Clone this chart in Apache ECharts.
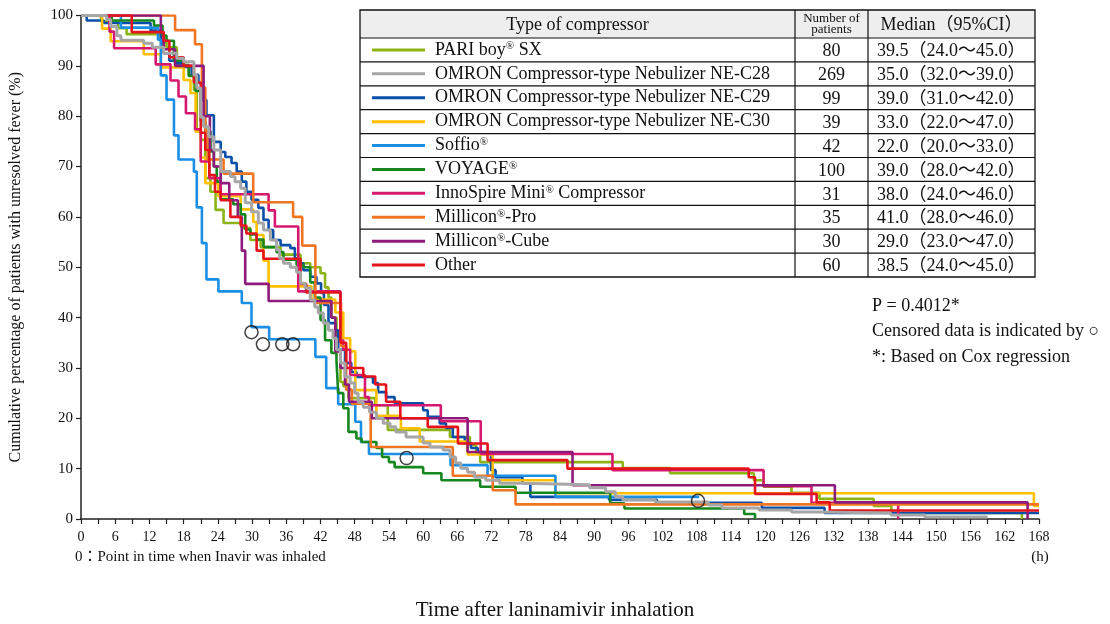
<!DOCTYPE html>
<html><head><meta charset="utf-8">
<script src="https://cdn.jsdelivr.net/npm/echarts/dist/echarts.min.js"></script>
<style>html,body{margin:0;padding:0;background:#fff}#c{width:1110px;height:624px}</style>
</head><body><div id="c"></div><script>
// ---- Data (time h, cumulative % with unresolved fever) ----
const pariBoy = [[0,100],[3.5,98.8],[6.5,97.5],[8,96.3],[14,94.7],[15,93.7],[16.8,90.2],[18.9,88.2],[19.8,85.2],[20.3,77.3],[21,75.3],[21.8,67.7],[22.7,65],[23.6,61.4],[25,58.8],[28.2,57.8],[29.7,55.4],[31.5,54],[35,52.5],[38.5,50.8],[40.2,50],[42,48.8],[42.8,46],[43.4,44],[43.9,40],[44.8,33.6],[45.5,27.2],[46,26.4],[46.9,24],[51.6,22.6],[53.8,17.7],[64.7,16.3],[68.2,14.7],[69.3,13.1],[70,11.3],[95,10.1],[103.3,9.1],[118,7.7],[119.7,6.4],[124.6,5.2],[129.5,4],[139,2.6],[142.1,1.2],[165,0]];
const omronC28 = [[0,100],[4.5,99.2],[5.2,97.8],[6.3,96],[7,95.1],[11,94.5],[12.5,93.7],[14.5,92.5],[16.8,91.5],[18,90.8],[19.8,88.2],[20.3,85.6],[21,79.8],[21.5,77.9],[22.4,75.9],[23.3,73.3],[24.5,69],[26.2,68],[27,67],[28,65.7],[28.8,62.8],[29.9,61],[31.1,58.8],[32,57.4],[33.2,55.4],[34.3,53.5],[34.8,51.8],[35.5,50.8],[36.7,50],[37.8,49],[38.5,46.8],[39.3,45.9],[40.2,43.5],[41,42.1],[41.6,40.9],[42.5,38.9],[43.4,37.5],[44.2,35.9],[44.8,33.6],[45.5,31],[46.3,28.2],[47.2,27],[48,25],[48.6,23.2],[49.5,22.2],[50.6,21.2],[51.8,20],[53,19],[54.2,18.3],[55.2,17.3],[57,16.3],[60,15.1],[61.2,14.3],[63.5,13.7],[64.7,12.3],[65.7,11.1],[66.6,10.1],[67.8,9.3],[69,8.3],[71,7.7],[73.4,7.1],[77.4,6.8],[89.2,6.2],[92,5.4],[93.7,4.4],[95,3.8],[100.7,3.4],[110,2.8],[112.4,2.2],[118.9,1.8],[124.6,1.4],[129.5,1.2],[142,0.8],[148,0.4],[159,0.4]];
const omronC29 = [[0,100],[1,99],[4,98.5],[12.2,97],[14,95],[14.5,92.5],[15.5,91],[16.5,90.5],[18,89.8],[19.4,88.2],[20.6,86.6],[21.2,83.2],[22,80.2],[23.3,74.9],[24.5,72.9],[25.3,71.9],[26.4,70.7],[27.3,69],[28.2,67],[29,65],[29.9,63.4],[31.1,61.8],[32,59.4],[32.9,57.4],[33.7,55.4],[35,54.4],[36.7,53.8],[37.5,51.8],[38.2,50.8],[39,49.4],[40.2,48.1],[41.3,46.8],[42.1,44.9],[42.6,42.5],[43.4,38.9],[44.6,37.5],[45.1,33.6],[46.3,31],[47.4,29.2],[48.3,28.2],[51.2,27],[52.1,25.2],[53.5,24.2],[55,23],[60,21.6],[60.8,20.3],[62.9,19],[64,18.1],[65.2,16.3],[67.3,15.1],[68.4,14.1],[69.6,13.3],[71.9,9.7],[72.7,8.3],[77.4,7.1],[78.8,4.4],[92.6,3.8],[101,3.2],[119.4,2.2],[130.4,1.2],[168,1.2]];
const omronC30 = [[0,100],[3.7,97.4],[5.2,94.9],[11,92.3],[14,89.7],[18,87.2],[19.2,84.6],[20.1,76.9],[21,71.8],[21.8,66.7],[24.1,64.1],[28,61.5],[30.2,59],[30.8,56.4],[32,51.3],[32.9,46.2],[40.4,43.6],[44.6,41],[46,35.9],[47.2,33.3],[48.1,25.6],[51.8,20.5],[56.1,18],[59.4,15.4],[67.8,12.8],[72.2,7.7],[83.2,5.1],[167.1,2.6],[168,2.6]];
const soffio = [[0,100],[7,97.6],[13.5,95.2],[14,88.1],[15,83.3],[16.3,76.2],[17.1,71.4],[19.8,69],[20.3,61.9],[21.2,54.8],[22,47.6],[24.1,45.2],[28.2,42.9],[29.9,38.1],[33,35.7],[41.1,32.2],[43,26],[45.1,22.8],[48.1,19.3],[49.1,15.3],[50.5,12.9],[64.8,10.7],[71.3,8.6],[83.2,4.4],[108.4,4.4]];
const voyage = [[0,100],[5.4,99],[12.8,98],[14.3,96],[15,95],[16.3,91],[18,90],[18.9,88],[20.1,85],[21,79],[21.8,77],[22.7,73],[23.3,70],[23.8,67],[24.5,63.5],[26.7,62.5],[28,60.5],[28.8,57.5],[29.7,56.5],[30.8,55.5],[32,54],[34.3,53],[35.5,51.5],[37.8,50.5],[39,50],[40.2,47],[41,44],[42,39.5],[42.8,35.5],[43.9,33],[44.8,31.5],[45.1,25],[46,22],[46.9,17.3],[48.3,16],[49.2,15.3],[51.8,14.1],[52.8,12.3],[54,11.3],[55,10.3],[60,9.1],[63.2,7.7],[70,6.4],[76.2,5.2],[92.8,3.1],[95.3,2.1],[116.3,1],[118.2,0]];
const innoSpire = [[0,100],[5,96.8],[5.8,93.5],[13.1,90.3],[15.7,87.1],[17.1,83.9],[18.4,80.6],[20,77.4],[21,71],[22.5,67.7],[24.5,64.5],[32.9,61.3],[34,58.1],[38.1,45.2],[45.5,35.5],[46,33.6],[47.2,28.6],[49.8,24.2],[50.5,22.6],[63.1,19.4],[70.1,12.9],[93.2,9.7],[119.7,6.5],[128.1,3.2],[143.3,0]];
const millPro = [[0,100],[16.5,97.1],[20,94.3],[21.2,85.7],[21.8,77.1],[22.2,71.4],[25,68.6],[30.2,62.9],[37.2,60],[38.8,54.3],[41.1,42.9],[45.6,34.3],[46.5,25.7],[47.5,22.9],[50.8,14.3],[65.2,8.6],[72.2,5.7],[76.2,2.9],[168,2.9]];
const millCube = [[0,100],[14,96.7],[14.5,93.3],[16.5,90],[21.5,80],[22.6,73.3],[23.3,70],[24.5,66.7],[26,63.3],[27.5,60],[28.2,53.3],[28.8,46.7],[32.9,43.3],[43.9,40],[44.6,33.3],[45.5,30],[46.3,26.7],[47,23.3],[51,20],[67.8,13.3],[86.2,6.7],[132.2,3.3],[166,0]];
const other = [[0,100],[8.9,96.7],[14.5,95],[15.5,91.7],[18,90],[19.8,86.7],[21,76.7],[21.8,73.3],[22.5,68.3],[23.5,65],[24.5,63.3],[26.2,60],[28,58.3],[29,56.7],[30.8,53.3],[32,51.7],[38.5,46.7],[39.5,45],[45.5,35],[46.5,30],[49.5,28.3],[51.6,26.7],[53.5,23.3],[56,20],[60.8,18.3],[66.1,15],[71.3,11.7],[85.3,10],[117.1,8.3],[118.2,5],[129,3.3],[131.3,1.7],[168,1.7]];
const censored = [[29.9,37.1],[31.9,34.7],[35.3,34.7],[37.2,34.7],[57.1,12.1],[108.2,3.6]];

const seriesNames = ['PARI boy® SX','OMRON Compressor-type Nebulizer NE-C28','OMRON Compressor-type Nebulizer NE-C29','OMRON Compressor-type Nebulizer NE-C30','Soffio®','VOYAGE®','InnoSpire Mini® Compressor','Millicon®-Pro','Millicon®-Cube','Other'];
const seriesData = [pariBoy, omronC28, omronC29, omronC30, soffio, voyage, innoSpire, millPro, millCube, other];
const patientCounts = ['80','269','99','39','42','100','31','35','30','60'];
const medianCI = ['39.5（24.0～45.0）','35.0（32.0～39.0）','39.0（31.0～42.0）','33.0（22.0～47.0）','22.0（20.0～33.0）','39.0（28.0～42.0）','38.0（24.0～46.0）','41.0（28.0～46.0）','29.0（23.0～47.0）','38.5（24.0～45.0）'];
const seriesColors = ['#8cb414','#a6a6a6','#0a4fa8','#ffc000','#1a8fe3','#16861f','#d6186e','#f07522','#8e1a7c','#e3141b'];
const xTickStep = 3, xLabelStep = 6, xMax = 168;
const yMax = 100, yStep = 10;
const notes = ['P = 0.4012*','Censored data is indicated by ○','*: Based on Cox regression'];

const SERIF = "'Liberation Serif','Noto Sans CJK JP',serif";
const chart = echarts.init(document.getElementById('c'), null, {renderer:'canvas'});

const series = seriesData.map((d, i) => ({
  type:'line', name: seriesNames[i], data: d, step:'end', showSymbol:false,
  lineStyle:{color: seriesColors[i], width: i === 1 ? 3 : 2.6},
  itemStyle:{color: seriesColors[i]}, z: i === 1 ? 4 : 3, silent:true
}));
series.push({type:'scatter', data: censored, symbol:'circle', symbolSize:13,
  itemStyle:{color:'rgba(255,255,255,0)', borderColor:'#111', borderWidth:1.5}, z:10});

// ---- table legend drawn as graphic ----
const G = [];
const TL=360, TR=1035, TT=10, HH=28, RH=23.9, C1=795, C2=868;
const TB = TT + HH + RH*seriesNames.length;
G.push({type:'rect', shape:{x:TL,y:TT,width:TR-TL,height:HH}, style:{fill:'#eeeeee'}});
G.push({type:'rect', shape:{x:TL,y:TT,width:TR-TL,height:TB-TT}, style:{fill:'none',stroke:'#111',lineWidth:1.3}});
for (let i=0;i<seriesNames.length;i++){
  const y = TT+HH+RH*i;
  G.push({type:'line', shape:{x1:TL,y1:y,x2:TR,y2:y}, style:{stroke:'#111',lineWidth:1.2}});
}
[C1,C2].forEach(x=>G.push({type:'line', shape:{x1:x,y1:TT,x2:x,y2:TB}, style:{stroke:'#111',lineWidth:1.2}}));
G.push({type:'text', style:{text:'Type of compressor', x:(TL+C1)/2, y:TT+HH/2+1, align:'center', verticalAlign:'middle', font:"18px "+SERIF, fill:'#111'}});
G.push({type:'text', style:{text:'Number of\npatients', x:(C1+C2)/2, y:TT+HH/2, align:'center', verticalAlign:'middle', font:"13px "+SERIF, lineHeight:11.5, fill:'#111'}});
G.push({type:'text', style:{text:'Median（95%CI）', x:(C2+TR)/2, y:TT+HH/2+1, align:'center', verticalAlign:'middle', font:"18px "+SERIF, fill:'#111'}});
seriesNames.forEach((nm,i)=>{
  const cy = TT+HH+RH*i+RH/2;
  G.push({type:'line', shape:{x1:372,y1:cy,x2:425,y2:cy}, style:{stroke:seriesColors[i],lineWidth:3}});
  const rich = nm.replace(/®/g,'{s|®}');
  G.push({type:'text', style:{text:rich, x:435, y:cy, align:'left', verticalAlign:'middle', fontFamily:SERIF, fontSize:18, fill:'#111',
    rich:{s:{fontSize:11, verticalAlign:'top', fontFamily:SERIF, fill:'#111'}}}});
  G.push({type:'text', style:{text:patientCounts[i], x:(C1+C2)/2, y:cy+1.5, align:'center', verticalAlign:'middle', font:"18px "+SERIF, fill:'#111'}});
  G.push({type:'text', style:{text:medianCI[i], x:877, y:cy+1.5, align:'left', verticalAlign:'middle', font:"18px "+SERIF, fill:'#111'}});
});
notes.forEach((t,i)=>G.push({type:'text', style:{text:t, x:872, y:306+i*25.5, align:'left', verticalAlign:'middle', font:"18px "+SERIF, fill:'#111'}}));
G.push({type:'text', style:{text:'0：Point in time when Inavir was inhaled', x:75, y:557, align:'left', verticalAlign:'middle', font:"15px "+SERIF, fill:'#111'}});
G.push({type:'text', style:{text:'(h)', x:1040, y:557, align:'center', verticalAlign:'middle', font:"15px "+SERIF, fill:'#111'}});
G.push({type:'text', style:{text:'Time after laninamivir inhalation', x:555, y:610, align:'center', verticalAlign:'middle', font:"21px "+SERIF, fill:'#111'}});

chart.setOption({
  animation:false,
  backgroundColor:'#fff',
  grid:{left:77, right:71, top:15.5, bottom:105, containLabel:false},
  xAxis:{type:'value', min:0, max:xMax, interval:xTickStep,
    axisLine:{show:true, lineStyle:{color:'#222', width:1.5}},
    axisTick:{show:true, length:5, lineStyle:{color:'#222', width:1.2}},
    axisLabel:{margin:11, fontFamily:SERIF, fontSize:14, color:'#111', formatter:v => (v % xLabelStep === 0 ? String(v) : '')},
    splitLine:{show:false}},
  yAxis:{type:'value', min:0, max:yMax, interval:yStep,
    axisLine:{show:true, lineStyle:{color:'#222', width:1.5}},
    axisTick:{show:true, length:5, lineStyle:{color:'#222', width:1.2}},
    axisLabel:{margin:8, fontFamily:SERIF, fontSize:15, color:'#111'},
    splitLine:{show:false},
    name:'Cumulative percentage of patients with unresolved fever (%)', nameLocation:'middle', nameGap:57,
    nameTextStyle:{fontFamily:SERIF, fontSize:16, color:'#111'}},
  series: series,
  graphic: G
});
</script></body></html>
